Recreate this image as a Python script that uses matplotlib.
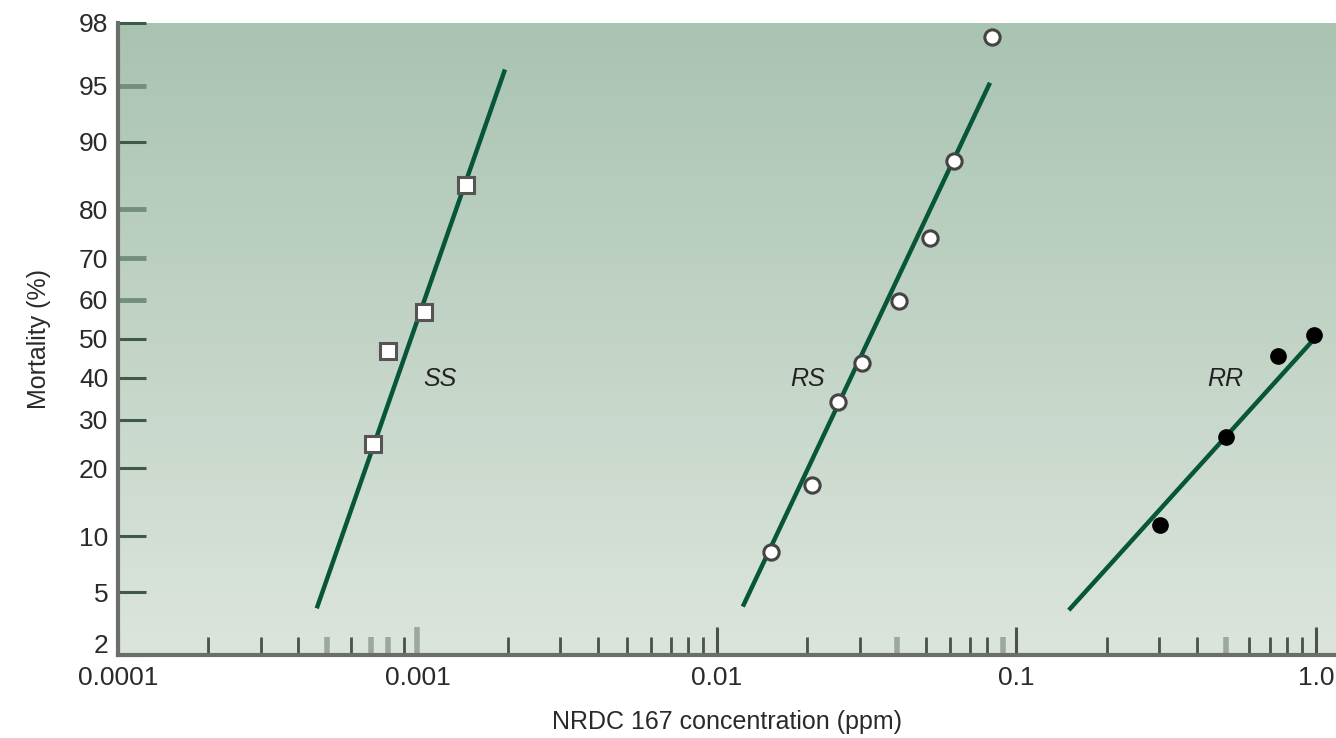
import numpy as np
import matplotlib
matplotlib.use("Agg")
import matplotlib.pyplot as plt
import matplotlib.transforms as mtransforms
from statistics import NormalDist

# data (concentration in ppm, mortality in %)
ss_x = [0.00071, 0.00080, 0.00105, 0.00145]
ss_y = [24.7, 46.9, 57.0, 84.2]
rs_x = [0.0151, 0.0208, 0.0254, 0.0305, 0.0405, 0.0514, 0.0618, 0.0828]
rs_y = [8.3, 17.2, 34.1, 43.8, 59.8, 74.5, 87.6, 97.5]
rr_x = [0.301, 0.500, 0.746, 0.985]
rr_y = [11.3, 26.2, 45.6, 51.0]

# fitted probit lines (end points)
ss_line_x = [0.000461, 0.00196]
ss_line_y = [4.0, 96.0]
rs_line_x = [0.0122, 0.0816]
rs_line_y = [4.1, 95.2]
rr_line_x = [0.1496, 1.0]
rr_line_y = [3.9, 50.5]

labels = ["SS", "RS", "RR"]
label_x = [0.00119, 0.0201, 0.497]
label_y = [39.7, 39.7, 39.7]

y_ticks = [2, 5, 10, 20, 30, 40, 50, 60, 70, 80, 90, 95, 98]
x_ticks = [0.0001, 0.001, 0.01, 0.1, 1.0]
x_ticklabels = ["0.0001", "0.001", "0.01", "0.1", "1.0"]

plt.rcParams['font.family'] = ['Liberation Sans', 'DejaVu Sans']

nd = NormalDist()
_ppf = np.vectorize(nd.inv_cdf, otypes=[float])
_cdf = np.vectorize(nd.cdf, otypes=[float])


def probit(p):
    p = np.clip(np.asarray(p, dtype=float) / 100.0, 1e-9, 1 - 1e-9)
    return _ppf(p)


def inv_probit(z):
    return _cdf(np.asarray(z, dtype=float)) * 100.0


fig = plt.figure(figsize=(13.36, 7.38), dpi=100)
pos = [0.0883, 0.1125, 0.9117, 0.8565]

# gradient background
bg = fig.add_axes(pos, zorder=0)
top = np.array([169, 195, 177]) / 255
bot = np.array([220, 229, 220]) / 255
t = np.linspace(0, 1, 256)[:, None]
grad = (top * (1 - t) + bot * t)[:, None, :]
bg.imshow(grad, aspect='auto', extent=[0, 1, 0, 1])
bg.axis('off')

ax = fig.add_axes(pos, zorder=1)
ax.patch.set_alpha(0)
ax.set_xscale('log')
ax.set_yscale('function', functions=(probit, inv_probit))

green = '#07563a'
ax.plot(ss_line_x, ss_line_y, color=green, lw=3.2, solid_capstyle='butt')
ax.plot(rs_line_x, rs_line_y, color=green, lw=3.2, solid_capstyle='butt')
ax.plot(rr_line_x, rr_line_y, color=green, lw=3.2, solid_capstyle='butt')

ax.plot(ss_x, ss_y, 's', ms=11, mfc='white', mec='#555555', mew=2.2, zorder=3)
ax.plot(rs_x, rs_y, 'o', ms=11, mfc='white', mec='#444444', mew=2.2, zorder=3)
ax.plot(rr_x, rr_y, 'o', ms=11, mfc='black', mec='black', mew=1, zorder=3)

for lab, lx, ly in zip(labels, label_x, label_y):
    ax.text(lx, ly, lab, fontsize=18, style='italic', color='#222222',
            ha='center', va='center')

ax.set_xlim(0.0001, 1.167)
ax.set_ylim(2, 98)

ax.set_yticks(y_ticks)
ax.set_yticklabels([str(v) for v in y_ticks])
ax.yaxis.set_minor_locator(matplotlib.ticker.NullLocator())
ax.set_xticks(x_ticks)
ax.set_xticklabels(x_ticklabels)
ax.xaxis.set_minor_locator(matplotlib.ticker.LogLocator(base=10, subs=np.arange(2, 10), numticks=20))
ax.xaxis.set_minor_formatter(matplotlib.ticker.NullFormatter())

ax.tick_params(axis='y', direction='in', length=20, width=2.2, color='#3f5a4a',
               labelsize=19, labelcolor='#2a2a2a', pad=7)
ax.tick_params(axis='x', which='major', direction='in', length=20, width=2.2,
               color='#4a524c', labelsize=19, labelcolor='#2a2a2a', pad=8)
ax.tick_params(axis='x', which='minor', direction='in', length=13, width=2.0,
               color='#4a524c')

for s in ['top', 'right']:
    ax.spines[s].set_visible(False)
for s in ['left', 'bottom']:
    ax.spines[s].set_color('#6b6e6b')
    ax.spines[s].set_linewidth(3)

ax.set_xlabel('NRDC 167 concentration (ppm)', fontsize=18, color='#2a2a2a', labelpad=14)
ax.set_ylabel('Mortality (%)', fontsize=18, color='#2a2a2a', labelpad=20)

# draw once so tick objects carry their locations
fig.canvas.draw()

# some ticks print lighter in the original
light_y = [60, 70, 80, 95]
for tk in ax.yaxis.get_major_ticks():
    if round(tk.get_loc()) in light_y:
        tk.tick1line.set_markeredgecolor('#728f7d')
        tk.tick1line.set_markeredgewidth(3.5)
light_x = [0.0005, 0.0007, 0.0008, 0.04, 0.09, 0.5]
for tk in ax.xaxis.get_minor_ticks():
    if any(abs(tk.get_loc() - v) / v < 1e-3 for v in light_x):
        tk.tick1line.set_markeredgecolor('#9ba89e')
        tk.tick1line.set_markeredgewidth(4)
for tk in ax.xaxis.get_major_ticks():
    if abs(tk.get_loc() - 0.001) < 1e-6:
        tk.tick1line.set_markeredgecolor('#9ba89e')
        tk.tick1line.set_markeredgewidth(4)

# the "2" label sits a little above the axis line
lab2 = ax.yaxis.get_major_ticks()[0].label1
lab2.set_transform(lab2.get_transform() +
                   mtransforms.ScaledTranslation(0, 8 / 72, fig.dpi_scale_trans))

fig.savefig('out.png', dpi=100)
